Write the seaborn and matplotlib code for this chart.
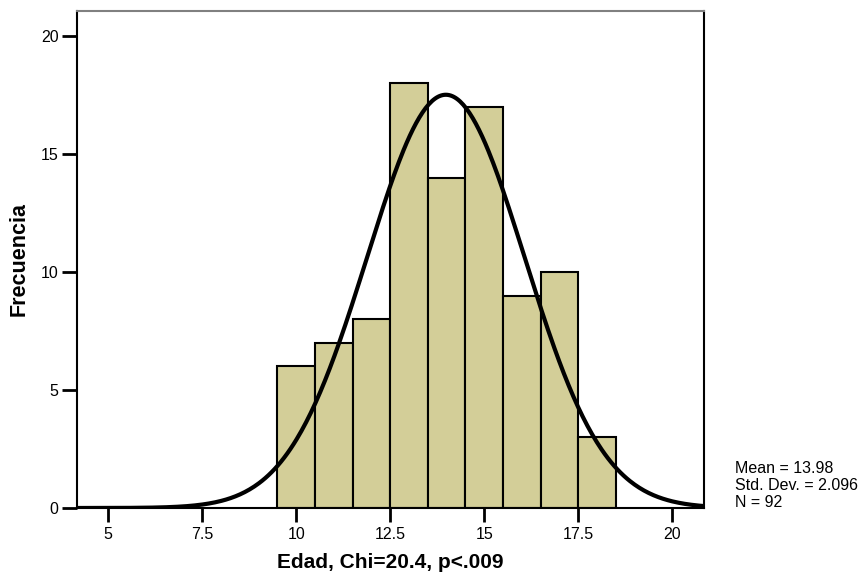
import numpy as np
import pandas as pd
import matplotlib
matplotlib.use("Agg")
import matplotlib.pyplot as plt
import seaborn as sns

# Data
edad = [10, 11, 12, 13, 14, 15, 16, 17, 18]
frecuencia = [6, 7, 8, 18, 14, 17, 9, 10, 3]
mean_val = 13.98
sd_val = 2.096
n_val = 92
x_ticks = [5, 7.5, 10, 12.5, 15, 17.5, 20]
x_tick_labels = ["5", "7.5", "10", "12.5", "15", "17.5", "20"]
y_ticks = [0, 5, 10, 15, 20]

sns.set_theme(style="white")
plt.rcParams['font.family'] = ['Liberation Sans', 'DejaVu Sans']
plt.rcParams['text.color'] = 'black'
plt.rcParams['axes.labelcolor'] = 'black'
plt.rcParams['xtick.color'] = 'black'
plt.rcParams['ytick.color'] = 'black'

fig = plt.figure(figsize=(8.63, 5.73), dpi=100)
ax = fig.add_axes([76.7 / 863, 65 / 573, 627 / 863, 497 / 573])

df = pd.DataFrame({"edad": edad, "frecuencia": frecuencia})
sns.histplot(data=df, x="edad", weights="frecuencia",
             binwidth=1.0, binrange=(9.5, 18.5), color="#D3CE98", alpha=1,
             edgecolor="black", linewidth=1.5, ax=ax)

xs = np.linspace(4.16, 20.84, 400)
ys = n_val * 1.0 / (sd_val * np.sqrt(2 * np.pi)) * np.exp(-0.5 * ((xs - mean_val) / sd_val) ** 2)
sns.lineplot(x=xs, y=ys, color="black", linewidth=3, ax=ax)

ax.set_xlim(4.16, 20.84)
ax.set_ylim(0, 21.06)
ax.set_xticks(x_ticks)
ax.set_xticklabels(x_tick_labels)
ax.set_yticks(y_ticks)

ax.tick_params(axis="both", which="both", direction="out", length=10, width=2,
               color="black", labelsize=11.5, labelcolor="black", bottom=True, left=True)
ax.tick_params(axis="y", length=11, pad=2)
ax.tick_params(axis="x", pad=4)

for s in ["left", "bottom", "right"]:
    ax.spines[s].set_color("black")
    ax.spines[s].set_linewidth(1.5)
ax.spines["top"].set_color("#808080")
ax.spines["top"].set_linewidth(1.5)

ax.set_xlabel("Edad, Chi=20.4, p<.009", fontsize=15, fontweight="bold", labelpad=7.5, color="black")
ax.set_ylabel("Frecuencia", fontsize=15.5, fontweight="bold", labelpad=8, color="black")

fig.text(735 / 863, 1 - 510 / 573, f"Mean = {mean_val:.2f}\nStd. Dev. = {sd_val:.3f}\nN = {n_val}",
         fontsize=11.5, va="bottom", ha="left", linespacing=1.15, color="black")

fig.savefig("out.png", dpi=100)
